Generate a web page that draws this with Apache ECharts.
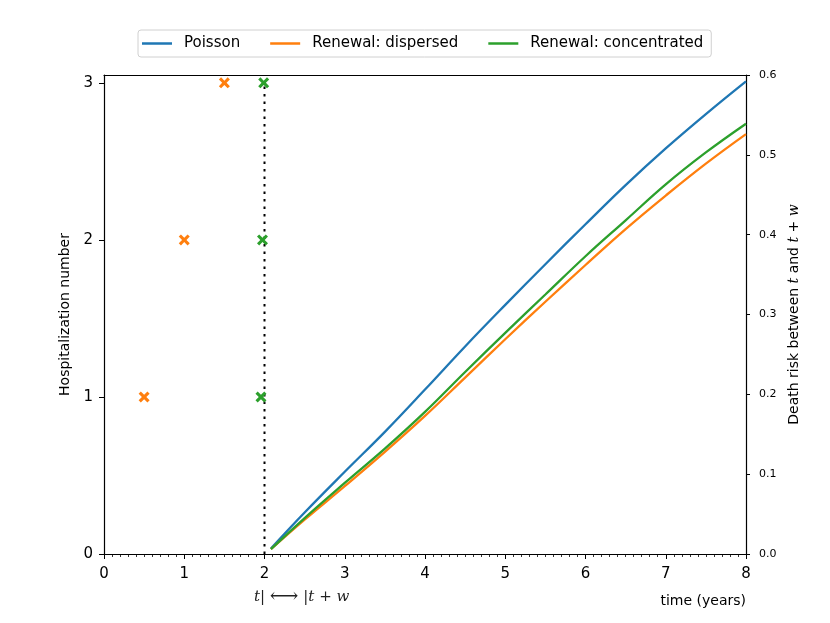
<!DOCTYPE html>
<html>
<head>
<meta charset="utf-8">
<script src="https://cdn.jsdelivr.net/npm/echarts@6/dist/echarts.min.js"></script>
<style>html,body{margin:0;padding:0;background:#fff}#c{width:830px;height:623px}</style>
</head>
<body>
<div id="c"></div>
<script>
// time grid for the risk curves (years)
var riskTimes = [2.08, 2.5, 3, 3.5, 4, 4.5, 5, 5.5, 6, 6.5, 7, 7.5, 8];
// death risk between t and t+w
var poissonRisk      = [0.007, 0.052, 0.103, 0.153, 0.206, 0.260, 0.312, 0.363, 0.413, 0.462, 0.508, 0.551, 0.592];
var dispersedRisk    = [0.006, 0.043, 0.085, 0.128, 0.173, 0.221, 0.269, 0.316, 0.362, 0.407, 0.449, 0.489, 0.526];
var concentratedRisk = [0.006, 0.045, 0.089, 0.132, 0.178, 0.228, 0.277, 0.325, 0.373, 0.418, 0.463, 0.503, 0.539];
// hospitalization events: times and numbers
var dispersedTimes    = [0.5, 1.0, 1.5];
var concentratedTimes = [1.956, 1.975, 1.99];
var hospNumbers       = [1, 2, 3];
// tick labels
var leftTicks = [0, 1, 2, 3];
// reference time t
var tRef = 2;
var legendNames = ['Poisson', 'Renewal: dispersed', 'Renewal: concentrated'];
var colors = ['#1f77b4', '#ff7f0e', '#2ca02c'];

function pairs(xs, ys){ return xs.map(function(x,i){ return [x, ys[i]]; }); }
var xMark = 'path://M2,0 L5,3 L8,0 L10,2 L7,5 L10,8 L8,10 L5,7 L2,10 L0,8 L3,5 L0,2 Z';
var FONT = 'DejaVu Sans';

var chart = echarts.init(document.getElementById('c'), null, {renderer: 'canvas'});
chart.setOption({
  animation: false,
  backgroundColor: '#fff',
  textStyle: {fontFamily: FONT},
  grid: {left: 104, right: 84, top: 75, bottom: 69, show: false},
  legend: {
    data: legendNames,
    left: 138, top: 30,
    itemWidth: 30, itemHeight: 2.5, icon: 'rect',
    itemGap: 30,
    padding: [6, 8, 6, 4],
    borderColor: '#d0d0d0', borderWidth: 1, borderRadius: 3,
    textStyle: {fontFamily: FONT, fontSize: 15, color: '#000', padding: [0, 0, 0, 7]}
  },
  xAxis: [{
    type: 'value', min: 0, max: 8, interval: 1, position: 'bottom',
    axisLine: {show: true, onZero: false, lineStyle: {color: '#000', width: 1.2}},
    axisTick: {show: true, inside: false, length: 5, lineStyle: {color: '#000', width: 1}},
    minorTick: {show: true, splitNumber: 10, length: 3, lineStyle: {color: '#000', width: 0.8}},
    axisLabel: {fontFamily: FONT, fontSize: 15, color: '#000', margin: 13},
    splitLine: {show: false}
  }, {
    type: 'value', min: 0, max: 8, interval: 1, position: 'top',
    axisLine: {show: true, onZero: false, lineStyle: {color: '#000', width: 1.2}},
    axisTick: {show: false}, axisLabel: {show: false}, splitLine: {show: false}
  }],
  yAxis: [{
    type: 'value', min: 0, max: 3.05, position: 'left',
    name: 'Hospitalization number', nameLocation: 'middle', nameGap: 31, nameRotate: 90,
    nameTextStyle: {fontFamily: FONT, fontSize: 14, color: '#000'},
    axisLine: {show: true, onZero: false, lineStyle: {color: '#000', width: 1.2}},
    axisTick: {show: true, inside: false, length: 5, lineStyle: {color: '#000'}, customValues: leftTicks},
    axisLabel: {fontFamily: FONT, fontSize: 15, color: '#000', margin: 11, customValues: leftTicks},
    splitLine: {show: false}
  }, {
    type: 'value', min: 0, max: 0.6, interval: 0.1, position: 'right',
    name: '{n|Death risk between }{i|t}{n| and }{i|t}{n| + }{i|w}', nameLocation: 'middle', nameGap: 40, nameRotate: 90,
    nameTextStyle: {fontFamily: FONT, fontSize: 14, color: '#000',
      rich: {n: {fontFamily: FONT, fontSize: 14, color: '#000'},
             i: {fontFamily: 'DejaVu Serif', fontStyle: 'italic', fontSize: 14, color: '#000'}}},
    axisLine: {show: true, onZero: false, lineStyle: {color: '#000', width: 1.2}},
    axisTick: {show: true, inside: false, length: 4, lineStyle: {color: '#000'}},
    axisLabel: {fontFamily: FONT, fontSize: 11, color: '#000', margin: 13,
      formatter: function(v){ return v.toFixed(1); }},
    splitLine: {show: false}
  }],
  graphic: [
    {type: 'text', x: 746, y: 594, style: {text: 'time (years)', font: '14px "DejaVu Sans"', fill: '#000', textAlign: 'right'}},
    {type: 'text', x: 254, y: 587, style: {
      text: '{i|t}{n|| }{a|⟷}{n| |}{i|t}{n| + }{i|w}',
      rich: {i: {font: 'italic 15px "DejaVu Serif"', fill: '#222'},
             n: {font: '15px "DejaVu Serif"', fill: '#222'},
             a: {font: '20px "DejaVu Serif"', fill: '#222'}}
    }}
  ],
  series: [
    {type: 'line', name: 'tline', yAxisIndex: 0, data: [[tRef, 0], [tRef, 3]], symbol: 'none', silent: true,
     lineStyle: {color: '#000', width: 2, type: [2.5, 5]}, z: 3},
    {type: 'line', name: legendNames[0], yAxisIndex: 1, data: pairs(riskTimes, poissonRisk), smooth: 0.4, showSymbol: false, symbol: 'none',
     color: colors[0], lineStyle: {color: colors[0], width: 2.3}},
    {type: 'line', name: legendNames[1], yAxisIndex: 1, data: pairs(riskTimes, dispersedRisk), smooth: 0.4, showSymbol: false, symbol: 'none',
     color: colors[1], lineStyle: {color: colors[1], width: 2.3}},
    {type: 'line', name: legendNames[2], yAxisIndex: 1, data: pairs(riskTimes, concentratedRisk), smooth: 0.4, showSymbol: false, symbol: 'none',
     color: colors[2], lineStyle: {color: colors[2], width: 2.3}},
    {type: 'scatter', name: 'dispersed events', yAxisIndex: 0, data: pairs(dispersedTimes, hospNumbers), symbol: xMark, symbolSize: 11,
     itemStyle: {color: colors[1], opacity: 1}, clip: false, z: 5},
    {type: 'scatter', name: 'concentrated events', yAxisIndex: 0, data: pairs(concentratedTimes, hospNumbers), symbol: xMark, symbolSize: 11,
     itemStyle: {color: colors[2], opacity: 1}, clip: false, z: 5}
  ]
});
</script>
</body>
</html>
